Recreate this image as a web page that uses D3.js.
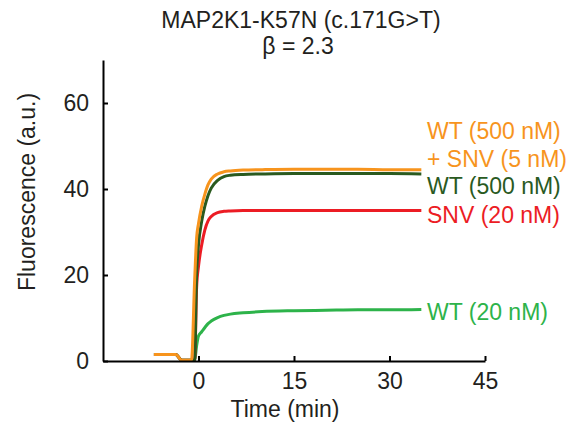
<!DOCTYPE html>
<html>
<head>
<meta charset="utf-8">
<script src="https://cdn.jsdelivr.net/npm/d3@7"></script>
<style>
  html, body { margin: 0; padding: 0; background: #fff; }
  text { font-family: "Liberation Sans", Arial, sans-serif; }
</style>
</head>
<body>
<svg id="chart" width="574" height="432"></svg>
<script>
const titleLines = ["MAP2K1-K57N (c.171G>T)", "β = 2.3"];
const xTicks = [0, 15, 30, 45];
const yTicks = [0, 20, 40, 60];
const xDomain = [-15, 45];
const yDomain = [0, 70];

const times = [-7, -3.6, -2.6, -1.1, -0.6, -0.3, 0, 0.5, 1, 1.5, 2, 3, 4, 5, 7, 10, 15, 20, 25, 30, 35];

const wt20 =      [1.5, 1.5, 0.2, 0.2, 0.2, 3.5, 5.8, 6.8, 7.8, 8.7, 9.3, 10.1, 10.6, 10.9, 11.2, 11.5, 11.7, 11.8, 11.9, 11.9, 12.0];
const snv20 =     [1.5, 1.5, 0.2, 0.2, 0.2, 17, 22, 27, 30.5, 32.6, 33.6, 34.5, 34.8, 34.9, 35, 35, 35, 35, 35, 35, 35];
const wt500 =     [1.5, 1.5, 0.2, 0.2, 0.2, 20, 27, 32.5, 36, 38.5, 40.2, 42, 42.9, 43.2, 43.4, 43.5, 43.6, 43.6, 43.6, 43.6, 43.5];
const wt500snv5 = [1.5, 1.5, 0.2, 0.2, 19, 28.5, 32, 36, 38.8, 41, 42.3, 43.5, 44, 44.2, 44.4, 44.5, 44.6, 44.6, 44.6, 44.5, 44.5];

const seriesNames = ["WT (20 nM)", "SNV (20 nM)", "WT (500 nM)", "WT (500 nM)|+ SNV (5 nM)"];
const seriesColors = ["#2db34a", "#ec1c24", "#2a5a1f", "#f7941d"];
const seriesValues = [wt20, snv20, wt500, wt500snv5];
const labelValues = [12.0, 35, 43.5, 44.5];

const svg = d3.select("#chart");
const x = d3.scaleLinear().domain(xDomain).range([103, 485]);
const y = d3.scaleLinear().domain(yDomain).range([361, 60]);
const textColor = "#231f20";

// title
svg.append("text").attr("x", 301).attr("y", 28).attr("text-anchor", "middle")
  .attr("font-size", 23).attr("fill", textColor).text(titleLines[0]);
svg.append("text").attr("x", 298).attr("y", 54).attr("text-anchor", "middle")
  .attr("font-size", 23).attr("fill", textColor).text(titleLines[1]);

// lines
const line = d3.line().x(d => x(d[0])).y(d => y(d[1])).curve(d3.curveMonotoneX);
seriesValues.forEach((vals, i) => {
  const pts = times.map((t, j) => [t, vals[j]]);
  svg.append("path").datum(pts).attr("d", line)
    .attr("fill", "none").attr("stroke", seriesColors[i])
    .attr("stroke-width", 3).attr("stroke-linejoin", "round");
});

// axes
const xAxis = svg.append("g").attr("transform", `translate(0,${y(0)})`)
  .call(d3.axisBottom(x).tickValues(xTicks).tickSizeInner(-5).tickSizeOuter(0).tickPadding(12));
const yAxis = svg.append("g").attr("transform", `translate(${x(-15)},0)`)
  .call(d3.axisLeft(y).tickValues(yTicks).tickSizeInner(-5).tickSizeOuter(0).tickPadding(14));
[xAxis, yAxis].forEach(g => {
  g.select(".domain").attr("stroke", "#000").attr("stroke-width", 2);
  g.selectAll(".tick line").attr("stroke", "#000").attr("stroke-width", 2);
  g.selectAll(".tick text").attr("font-size", 23).attr("fill", textColor)
    .attr("font-family", "Liberation Sans, Arial, sans-serif");
});
xAxis.selectAll(".tick text").attr("dy", "0.71em").attr("y", 12);

// axis titles
svg.append("text").attr("x", 285).attr("y", 417).attr("text-anchor", "middle")
  .attr("font-size", 23).attr("fill", textColor).text("Time (min)");
svg.append("text").attr("transform", "translate(35,192) rotate(-90)")
  .attr("text-anchor", "middle").attr("font-size", 23).attr("fill", textColor)
  .text("Fluorescence (a.u.)");

// series labels
const labelBaselines = [320, 223, 194, 139];
seriesNames.forEach((name, i) => {
  const parts = name.split("|");
  parts.forEach((p, k) => {
    svg.append("text").attr("x", 427).attr("y", labelBaselines[i] + k * 28)
      .attr("font-size", 23).attr("fill", seriesColors[i]).text(p);
  });
});
</script>
</body>
</html>
